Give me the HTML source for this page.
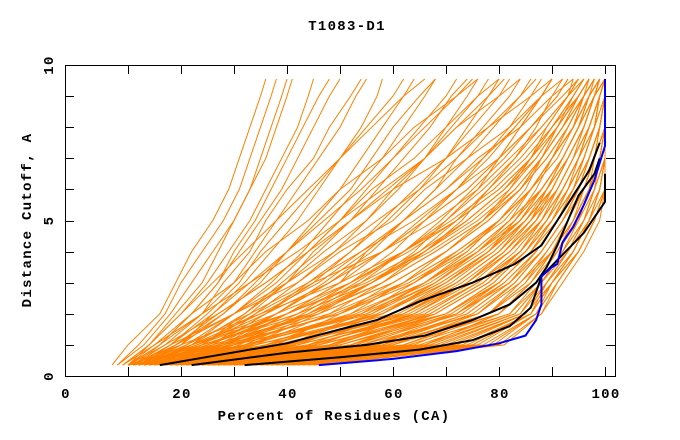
<!DOCTYPE html>
<html><head><meta charset="utf-8"><style>
body{margin:0;background:#fff;}
svg{display:block;}
svg text{font-family:"Liberation Mono","DejaVu Sans Mono",monospace;font-weight:bold;letter-spacing:1.3px;}
</style></head><body>
<svg id="chart" width="680" height="440" viewBox="0 0 680 440" xmlns="http://www.w3.org/2000/svg">
<text x="347" y="30" text-anchor="middle" font-size="14">T1083-D1</text>
<text x="334" y="420" text-anchor="middle" font-size="14">Percent of Residues (CA)</text>
<text transform="translate(31,220) rotate(-90)" text-anchor="middle" font-size="14">Distance Cutoff, A</text>
<g id="series"></g>
<g id="axes"></g>
</svg>
<script>
const cutoffs=[0.35,1,2,3,4,5,6,7,8,9,9.55];
const orangeModels=[
[7,10,16,19,22,26,29,31,33,35,36],[8,12,17,20,24,28,31,33,35,37,38],[10,14,19,24,27,30,33,36,38,40,41],
[10,15,22,27,30,34,37,40,43,46,48],[11,16,24,28,33,36,40,45,48,52,54],[12,18,25,31,35,40,45,50,55,60,62],
[13,20,28,35,40,46,52,56,60,65,68],[14,22,30,38,44,50,55,60,65,70,72],[15,24,33,40,47,55,60,66,70,74,76],
[16,26,36,44,52,58,64,70,74,78,80],[18,28,38,48,56,62,68,72,77,82,84],[18,30,42,52,60,66,72,77,82,86,88],
[20,32,45,56,64,70,76,80,84,88,90],[20,34,48,58,66,73,78,83,87,90,92],[22,36,52,62,70,77,82,86,89,93,94],
[24,40,56,66,74,80,85,88,91,94,96],[25,44,60,70,78,83,87,90,93,96,97],[26,48,64,74,81,86,89,92,95,97,98],
[28,52,68,78,84,88,91,94,96,98,99],[30,56,72,80,86,90,93,95,97,99,100],
[12,20,26,33,42,50,58,66,72,80,84],[14,24,32,40,45,52,60,70,78,86,90],[16,28,40,50,55,62,70,76,84,90,94],
[11,18,30,42,50,60,66,74,82,88,92],[13,22,35,46,54,64,72,80,86,92,95],[17,26,34,45,58,68,76,82,88,93,96],
[19,30,44,54,62,72,80,86,90,95,97],[21,38,50,60,70,78,84,88,92,96,98],[23,42,58,68,76,84,88,92,95,97,99],
[27,46,62,72,80,86,90,93,96,98,100],[9,14,20,26,32,38,44,50,56,62,66],[10,16,22,30,36,44,50,58,64,72,76],
[12,19,27,36,44,50,56,64,70,76,80],[15,25,38,48,58,66,74,80,84,88,90],[22,40,54,64,72,80,86,90,94,96,98],
[10,30,55,68,76,82,86,90,93,96,98],[12,34,60,72,80,85,89,92,95,97,99],[14,38,62,74,82,87,90,93,96,98,100],
[16,42,66,76,84,89,92,95,97,99,100],[18,46,70,80,86,90,93,96,98,99,100],[20,50,72,82,88,92,95,97,99,100,100],
[22,54,76,84,89,93,96,98,99,100,100],[24,58,78,86,90,94,97,98,100,100,100],[26,60,80,87,91,95,97,99,100,100,100],
[28,63,82,88,92,96,98,99,100,100,100],[30,66,83,88,93,96,98,100,100,100,100],[32,68,84,89,93,97,99,100,100,100,100],
[34,70,85,89,94,97,99,100,100,100,100],[36,72,85,90,94,97,99,100,100,100,100],[38,74,86,90,95,98,100,100,100,100,100],
[40,76,86,90,95,98,100,100,100,100,100],[11,26,46,60,70,78,84,88,92,95,97],[13,28,50,64,74,80,86,90,94,96,98],
[15,32,52,66,75,82,88,92,95,97,99],[17,36,58,70,78,84,89,93,96,98,99],[19,40,64,74,82,88,92,95,97,99,100],
[21,44,66,76,84,88,92,95,97,99,100],[23,48,68,78,85,90,94,96,98,99,100],[25,52,70,80,86,91,94,97,99,100,100],
[27,56,74,82,88,92,95,98,99,100,100],[29,60,76,83,88,92,96,98,100,100,100],[31,64,78,84,90,94,96,98,100,100,100],
[33,66,80,86,90,94,97,99,100,100,100],[10,22,40,55,66,75,82,87,91,95,97],[12,24,44,58,68,77,84,89,93,96,98],
[14,27,48,62,72,80,86,90,94,97,99],[16,30,54,67,76,83,88,92,95,98,99],[18,34,58,70,79,85,90,93,96,98,100],
[20,38,62,73,81,87,91,94,97,99,100],[22,42,65,76,83,88,92,95,97,99,100],[26,50,70,79,85,90,93,96,98,99,100],
[30,58,75,83,88,92,95,97,99,100,100],[35,66,80,86,91,94,97,99,100,100,100],[42,75,86,90,94,97,99,100,100,100,100],
[44,78,87,91,95,98,100,100,100,100,100],[46,80,88,92,96,99,100,100,100,100,100],
[8,13,18,22,26,30,33,35,37,39,40],[9,14,20,25,29,33,36,39,42,44,45],[10,16,22,27,31,35,39,42,45,48,50],
[11,17,24,30,34,38,42,46,50,53,55],[12,18,26,32,37,42,46,50,54,57,58],[13,19,28,34,40,45,50,54,58,62,64],
[14,21,30,37,43,48,53,58,62,66,68],[15,22,32,39,46,52,57,62,67,71,74],[16,24,34,42,49,55,61,66,71,76,78],
[17,26,36,45,52,59,65,70,75,80,82],[18,27,38,47,55,62,68,74,79,84,86],[19,29,40,50,58,65,72,78,83,88,90],
[21,31,43,53,62,69,75,81,86,91,93],[23,33,46,56,65,72,78,84,89,93,95],[9,15,24,33,40,47,54,60,66,72,75],
[10,17,27,36,44,52,59,66,72,78,81],[11,19,30,40,49,57,65,72,78,84,87],[12,21,33,44,54,62,70,77,83,88,90],
[13,23,36,48,58,66,74,80,86,91,93],[14,25,40,52,62,70,77,83,88,93,95],[16,28,44,56,66,74,81,86,91,95,97],
[10,28,50,64,73,80,86,90,94,97,99],[11,32,56,68,77,84,88,92,95,98,99],[13,36,60,71,79,85,90,93,96,98,100],
[15,40,63,74,81,87,91,94,97,99,100],[17,44,67,77,84,89,92,95,98,99,100],[19,48,70,79,85,90,94,96,98,100,100],
[21,52,73,81,87,91,95,97,99,100,100],[23,56,76,83,88,92,95,98,99,100,100],[25,59,78,85,89,93,96,98,100,100,100],
[27,62,80,86,90,94,97,99,100,100,100],[29,65,82,87,91,95,97,99,100,100,100],[31,67,83,88,92,95,98,100,100,100,100],
[33,69,84,88,92,96,98,100,100,100,100],[35,71,85,89,93,96,99,100,100,100,100],[37,73,86,89,93,97,99,100,100,100,100],
[39,75,86,90,94,97,99,100,100,100,100],[41,77,87,90,94,97,100,100,100,100,100],[43,79,87,91,95,98,100,100,100,100,100],
[45,81,88,91,95,98,100,100,100,100,100],
[10,20,35,50,62,71,79,85,90,94,96],[12,23,40,54,65,74,81,87,91,95,97],[14,26,45,58,68,77,83,88,92,96,98],
[16,29,50,62,72,80,86,90,94,97,99],[18,32,55,66,75,82,88,92,95,98,99],[20,36,58,69,78,84,89,93,96,98,100],
[24,46,68,78,85,89,93,96,98,99,100],[28,54,72,81,87,91,94,97,99,100,100],[32,62,78,85,90,93,96,98,100,100,100],
[11,24,42,56,66,74,81,86,90,94,96],[13,27,46,60,70,78,84,89,93,96,98],[15,30,49,63,73,81,86,91,94,97,99],
[17,33,53,66,76,83,88,92,95,98,99],[19,37,57,69,78,85,90,93,96,98,100],[21,41,61,72,80,86,91,94,97,99,100],
[23,45,64,75,82,88,92,95,98,99,100],[25,49,67,77,84,89,93,96,98,100,100],[27,53,71,80,86,90,94,97,99,100,100],
[29,57,74,82,87,91,95,97,99,100,100],[12,22,38,52,63,72,80,86,90,94,96],[14,25,42,56,67,76,83,88,92,95,97]
];
const black1X=[16,28,40,50,57,65,75,83,88,91,94,97,99];
const black1Y=[0.35,0.7,1.05,1.5,1.8,2.4,3,3.6,4.2,5,5.8,6.6,7.5];
const black2X=[22,40,55,66,75,82,87,89,91,93,95,98,99];
const black2Y=[0.35,0.75,1,1.3,1.8,2.3,3,3.5,4.2,5,5.8,6.5,7];
const black3X=[32,50,65,75,82,86,88,92,96,100,100];
const black3Y=[0.35,0.6,0.85,1.15,1.6,2.2,3.2,3.9,4.6,5.6,6.5];
const blueX=[46,60,72,80,85,87,88,88,90,91,92,94,96,98,100,100];
const blueY=[0.35,0.55,0.8,1.05,1.3,1.8,2.3,3.2,3.5,3.6,4.3,4.8,5.5,6.3,7.4,9.55];
const xTickLabels=[0,20,40,60,80,100];
const yTickLabels=[0,5,10];

const L=65,R=615,T=65,B=376;
const xs=v=>75+v*5.3;
const ys=v=>B-v*31.1;
const NS="http://www.w3.org/2000/svg";
const g=document.getElementById('series');
function poly(xa,ya,color,w,name){
  const p=document.createElementNS(NS,'polyline');
  p.setAttribute('points',xa.map((x,i)=>xs(x).toFixed(1)+','+ys(ya[i]).toFixed(1)).join(' '));
  p.setAttribute('fill','none');p.setAttribute('stroke',color);p.setAttribute('stroke-width',w);
  
  
  g.appendChild(p);
}
orangeModels.forEach((m,i)=>poly(m,cutoffs,'#ff8000',1,'model-line-'+(i+1)));
poly(black1X,black1Y,'#000',2,'highlight-line-1');
poly(black2X,black2Y,'#000',2,'highlight-line-2');
poly(black3X,black3Y,'#000',2,'highlight-line-3');
poly(blueX,blueY,'#0000ff',2,'best-model-line');

const a=document.getElementById('axes');
function line(x1,y1,x2,y2,name){
  const l=document.createElementNS(NS,'line');
  l.setAttribute('x1',x1);l.setAttribute('y1',y1);l.setAttribute('x2',x2);l.setAttribute('y2',y2);
  l.setAttribute('stroke','#000');l.setAttribute('stroke-width',1);
  
  
  a.appendChild(l);
}
function text(x,y,s,anchor,name){
  const t=document.createElementNS(NS,'text');
  t.setAttribute('x',x);t.setAttribute('y',y);t.setAttribute('text-anchor',anchor);t.setAttribute('font-size','14');
  t.textContent=s;
  
  
  a.appendChild(t);
}
const frame=document.createElementNS(NS,'rect');
frame.setAttribute('x',L+0.5);frame.setAttribute('y',T+0.5);frame.setAttribute('width',R-L);frame.setAttribute('height',B-T);
frame.setAttribute('fill','none');frame.setAttribute('stroke','#000');


a.appendChild(frame);
for(let v=10;v<=100;v+=10){
  const x=Math.round(xs(v))+0.5;
  line(x,B,x,B-9,'x-tick');
  line(x,T,x,T+9,'x-tick-top');
}
for(let v=1;v<=9;v++){
  const y=Math.round(ys(v))+0.5;
  line(L,y,L+9,y,'y-tick');
  line(R,y,R-9,y,'y-tick-right');
}
xTickLabels.forEach(v=>text(v===0?66:xs(v)+1,398,String(v),'middle','x-tick-label'));
yTickLabels.forEach(v=>{
  const t=document.createElementNS(NS,'text');
  const y=ys(v);
  t.setAttribute('transform','translate(53,'+y+') rotate(-90)');
  t.setAttribute('text-anchor','middle');t.setAttribute('font-size','14');
  t.textContent=String(v);
  
  
  a.appendChild(t);
});
</script>
</body></html>
